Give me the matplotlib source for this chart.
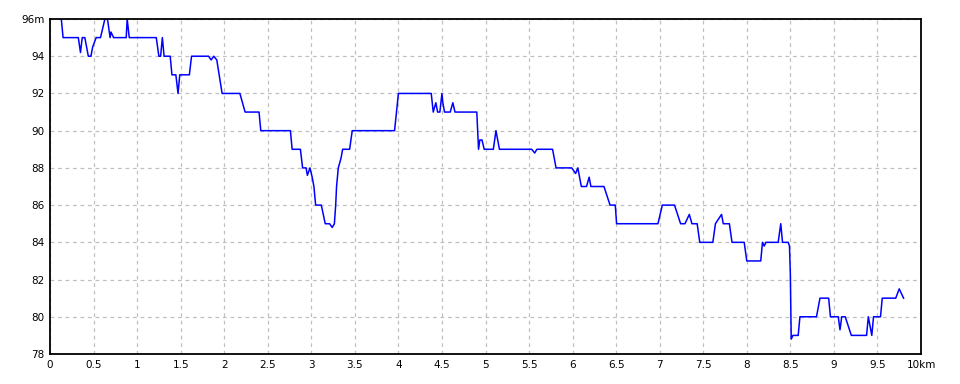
import matplotlib
matplotlib.use("Agg")
import matplotlib.pyplot as plt

# elevation profile (km, m)
dist_km = [
    0.13, 0.15, 0.325, 0.35, 0.37, 0.40, 0.44, 0.47, 0.49, 0.53, 0.58, 0.63, 0.66,
    0.69, 0.70, 0.73, 0.875, 0.886, 0.91, 1.22, 1.25, 1.27, 1.29, 1.31, 1.38, 1.40,
    1.445, 1.47, 1.49, 1.60, 1.625, 1.82, 1.85, 1.88, 1.915, 1.976, 2.18, 2.24, 2.40,
    2.42, 2.76, 2.78, 2.875, 2.90, 2.94, 2.955, 2.985, 3.01, 3.03, 3.05, 3.115, 3.16,
    3.21, 3.24, 3.265, 3.28, 3.29, 3.31, 3.34, 3.36, 3.44, 3.47, 3.956, 4.00, 4.377,
    4.40, 4.43, 4.45, 4.476, 4.50, 4.51, 4.53, 4.595, 4.625, 4.65, 4.90, 4.92, 4.935,
    4.96, 4.985, 5.09, 5.12, 5.16, 5.53, 5.565, 5.59, 5.77, 5.81, 5.99, 6.035, 6.06,
    6.10, 6.16, 6.19, 6.21, 6.36, 6.43, 6.49, 6.505, 6.98, 7.03, 7.17, 7.24, 7.29,
    7.34, 7.37, 7.43, 7.46, 7.61, 7.64, 7.71, 7.73, 7.80, 7.83, 7.97, 8.00, 8.16,
    8.18, 8.20, 8.22, 8.36, 8.39, 8.41, 8.475, 8.49, 8.50, 8.51, 8.53, 8.59, 8.61,
    8.80, 8.84, 8.94, 8.96, 9.05, 9.07, 9.09, 9.13, 9.20, 9.375, 9.395, 9.435, 9.455,
    9.535, 9.555, 9.71, 9.75, 9.80,
]
elev_m = [
    96.0, 95.0, 95.0, 94.2, 95.0, 95.0, 94.0, 94.0, 94.5, 95.0, 95.0, 96.0, 96.0,
    95.0, 95.3, 95.0, 95.0, 96.0, 95.0, 95.0, 94.0, 94.0, 95.0, 94.0, 94.0, 93.0,
    93.0, 92.0, 93.0, 93.0, 94.0, 94.0, 93.8, 94.0, 93.8, 92.0, 92.0, 91.0, 91.0,
    90.0, 90.0, 89.0, 89.0, 88.0, 88.0, 87.6, 88.0, 87.5, 87.0, 86.0, 86.0, 85.0,
    85.0, 84.8, 85.0, 86.0, 87.0, 88.0, 88.5, 89.0, 89.0, 90.0, 90.0, 92.0, 92.0,
    91.0, 91.5, 91.0, 91.0, 92.0, 91.5, 91.0, 91.0, 91.5, 91.0, 91.0, 89.0, 89.5,
    89.5, 89.0, 89.0, 90.0, 89.0, 89.0, 88.8, 89.0, 89.0, 88.0, 88.0, 87.7, 88.0,
    87.0, 87.0, 87.5, 87.0, 87.0, 86.0, 86.0, 85.0, 85.0, 86.0, 86.0, 85.0, 85.0,
    85.5, 85.0, 85.0, 84.0, 84.0, 85.0, 85.5, 85.0, 85.0, 84.0, 84.0, 83.0, 83.0,
    84.0, 83.8, 84.0, 84.0, 85.0, 84.0, 84.0, 83.8, 82.3, 78.8, 79.0, 79.0, 80.0,
    80.0, 81.0, 81.0, 80.0, 80.0, 79.3, 80.0, 80.0, 79.0, 79.0, 80.0, 79.0, 80.0,
    80.0, 81.0, 81.0, 81.5, 81.0,
]

x_ticks = [0, 0.5, 1, 1.5, 2, 2.5, 3, 3.5, 4, 4.5, 5, 5.5, 6, 6.5, 7, 7.5, 8, 8.5, 9, 9.5, 10]
x_labels = ["0", "0.5", "1", "1.5", "2", "2.5", "3", "3.5", "4", "4.5", "5", "5.5",
            "6", "6.5", "7", "7.5", "8", "8.5", "9", "9.5", "10km"]
y_ticks = [78, 80, 82, 84, 86, 88, 90, 92, 94, 96]
y_labels = ["78", "80", "82", "84", "86", "88", "90", "92", "94", "96m"]

fig = plt.figure(figsize=(9.6, 3.84), dpi=100)
ax = fig.add_axes([50 / 960, 1 - 354 / 384, 871 / 960, 335 / 384])

ax.plot(dist_km, elev_m, color="#0000ff", linewidth=1.1, clip_on=True)

ax.set_xlim(0, 10)
ax.set_ylim(78, 96)
ax.set_xticks(x_ticks)
ax.set_xticklabels(x_labels)
ax.set_yticks(y_ticks)
ax.set_yticklabels(y_labels)
ax.tick_params(length=0, labelsize=7.5, pad=4)
ax.grid(True, color="#c0c0c0", linestyle=(0, (3, 3)), linewidth=0.9)
for s in ax.spines.values():
    s.set_color("black")
    s.set_linewidth(1.3)

fig.savefig("out.png", dpi=100)
